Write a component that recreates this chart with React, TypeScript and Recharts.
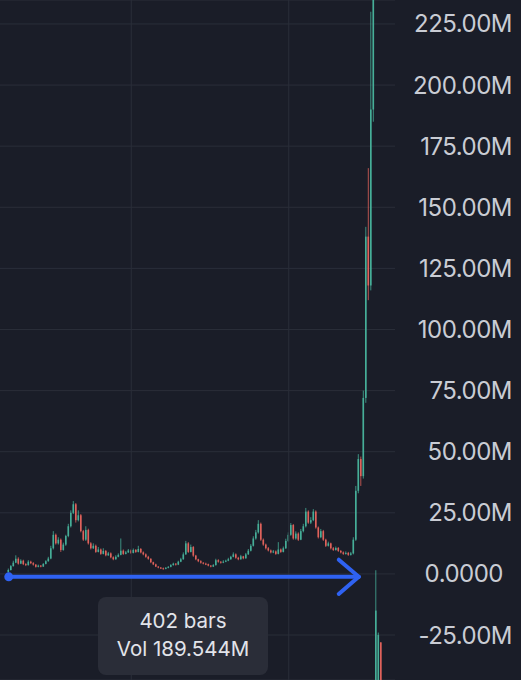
import React from "react";
import {
  ComposedChart,
  Bar,
  CartesianGrid,
  XAxis,
  YAxis,
  ReferenceLine,
  ReferenceDot,
} from "recharts";

// candles, values in millions; open/close/high/low per bar
const opens = [
  0.8, 1.6, 3.2, 4.6, 6.2, 4.2, 5.4, 4.0, 3.6, 5.0, 4.4, 3.8, 2.9, 3.4, 3.0, 4.1, 5.2, 6.3, 10.5, 16.0,
  12.5, 14.0, 9.8, 12.0, 15.5, 19.5, 25.0, 28.5, 22.0, 24.0, 17.5, 14.0, 18.0, 12.5, 10.5, 11.5, 9.0, 10.0, 8.2, 9.4,
  7.6, 8.4, 6.8, 6.0, 7.0, 7.8, 9.5, 8.2, 8.8, 9.6, 8.6, 9.8, 9.0, 10.2, 8.8, 8.0, 7.0, 6.2, 4.8, 3.9,
  3.0, 2.6, 2.3, 2.1, 2.5, 2.9, 3.6, 4.2, 3.8, 5.0, 6.0, 8.0, 12.5, 9.0, 11.0, 7.5, 6.0, 5.2, 4.6, 4.2,
  4.0, 3.4, 3.0, 3.6, 5.6, 5.0, 4.6, 5.0, 5.4, 6.0, 7.0, 8.0, 6.6, 6.0, 7.2, 6.4, 8.0, 9.5, 11.5, 14.5,
  17.0, 20.5, 14.0, 12.0, 10.5, 9.6, 8.8, 9.2, 8.2, 10.0, 9.0, 10.5, 13.5, 16.0, 20.0, 14.5, 16.5, 14.0, 17.5, 19.5,
  25.5, 21.0, 22.0, 25.5, 19.0, 15.0, 17.5, 14.0, 11.5, 12.5, 10.5, 9.8, 10.6, 9.4, 8.8, 8.2, 8.6, 7.8, 8.4, 14,
  34, 47, 40, 72, 138, 118, 190, -60, -70, -28,
];
const closes = [
  1.6, 3.2, 4.6, 6.2, 4.2, 5.4, 4.0, 3.6, 5.0, 4.4, 3.8, 2.9, 3.4, 3.0, 4.1, 5.2, 6.3, 10.5, 16.0, 12.5,
  14.0, 9.8, 12.0, 15.5, 19.5, 25.0, 28.5, 22.0, 24.0, 17.5, 14.0, 18.0, 12.5, 10.5, 11.5, 9.0, 10.0, 8.2, 9.4, 7.6,
  8.4, 6.8, 6.0, 7.0, 7.8, 9.5, 8.2, 8.8, 9.6, 8.6, 9.8, 9.0, 10.2, 8.8, 8.0, 7.0, 6.2, 4.8, 3.9, 3.0,
  2.6, 2.3, 2.1, 2.5, 2.9, 3.6, 4.2, 3.8, 5.0, 6.0, 8.0, 12.5, 9.0, 11.0, 7.5, 6.0, 5.2, 4.6, 4.2, 4.0,
  3.4, 3.0, 3.6, 5.6, 5.0, 4.6, 5.0, 5.4, 6.0, 7.0, 8.0, 6.6, 6.0, 7.2, 6.4, 8.0, 9.5, 11.5, 14.5, 17.0,
  20.5, 14.0, 12.0, 10.5, 9.6, 8.8, 9.2, 8.2, 10.0, 9.0, 10.5, 13.5, 16.0, 20.0, 14.5, 16.5, 14.0, 17.5, 19.5, 25.5,
  21.0, 22.0, 25.5, 19.0, 15.0, 17.5, 14.0, 11.5, 12.5, 10.5, 9.8, 10.6, 9.4, 8.8, 8.2, 8.6, 7.8, 8.4, 14, 34,
  47, 40, 72, 138, 118, 190, 290, -15, -25, -70,
];
const highs = [
  2.2, 3.6, 5.4, 7.6, 6.8, 6.0, 5.8, 4.4, 5.6, 5.4, 4.8, 4.0, 3.8, 3.6, 4.4, 5.6, 7.0, 11.5, 17.5, 16.5,
  15.0, 14.5, 12.8, 16.0, 20.5, 26.0, 29.8, 29.0, 26.0, 24.5, 18.0, 19.5, 18.5, 13.0, 12.5, 12.0, 11.0, 10.4, 10.5, 9.8,
  9.0, 8.8, 7.2, 7.6, 8.4, 14.5, 10.0, 9.4, 10.2, 10.0, 10.4, 10.2, 11.5, 10.6, 9.2, 8.4, 7.4, 6.4, 5.0, 4.2,
  3.2, 2.8, 2.6, 2.8, 3.2, 4.0, 4.6, 4.4, 5.4, 6.6, 8.8, 13.5, 13.0, 12.0, 11.4, 7.8, 6.2, 5.6, 4.8, 4.6,
  4.2, 3.6, 4.0, 6.2, 6.0, 5.2, 5.6, 5.8, 6.6, 7.4, 8.8, 8.4, 7.0, 7.8, 7.4, 8.6, 10.2, 12.2, 15.4, 18.0,
  22.0, 21.0, 14.5, 12.4, 11.0, 10.0, 9.8, 9.6, 13.0, 10.4, 11.2, 14.4, 17.0, 20.8, 20.4, 17.4, 17.0, 18.4, 20.5, 27.0,
  26.0, 23.2, 26.5, 26.0, 19.4, 18.4, 18.0, 14.4, 13.2, 12.8, 11.0, 11.2, 11.0, 9.8, 9.2, 9.2, 9.0, 9.0, 15, 36,
  49, 48, 75, 142, 166, 230, 300, 1.5, -24, -28,
];
const lows = [
  0.5, 1.4, 3.0, 4.4, 3.8, 4.0, 3.6, 3.2, 3.4, 4.0, 3.4, 2.6, 2.7, 2.7, 2.9, 3.9, 5.0, 6.0, 10.0, 12.0,
  12.0, 9.0, 9.5, 11.5, 15.0, 19.0, 24.5, 21.0, 21.5, 17.0, 13.5, 13.5, 12.0, 10.0, 10.2, 8.6, 8.8, 7.8, 8.0, 7.2,
  7.4, 6.4, 5.6, 5.8, 6.8, 7.6, 7.8, 8.0, 8.6, 8.2, 8.4, 8.6, 8.8, 8.4, 7.6, 6.6, 5.8, 4.4, 3.6, 2.8,
  2.3, 2.0, 1.8, 1.9, 2.3, 2.7, 3.4, 3.4, 3.6, 4.8, 5.8, 7.8, 8.6, 8.8, 7.0, 5.6, 4.8, 4.2, 3.9, 3.6,
  3.1, 2.7, 2.8, 3.4, 4.6, 4.2, 4.4, 4.8, 5.2, 5.8, 6.8, 6.2, 5.6, 5.8, 6.0, 6.2, 7.8, 9.2, 11.2, 14.0,
  16.5, 13.5, 11.5, 10.0, 9.2, 8.4, 8.5, 7.8, 8.0, 8.6, 8.8, 10.2, 13.0, 15.6, 14.0, 14.0, 13.5, 13.8, 17.0, 19.0,
  20.5, 20.4, 21.6, 18.5, 14.5, 14.6, 13.5, 11.0, 11.2, 10.0, 9.4, 9.5, 9.0, 8.4, 7.8, 7.9, 7.4, 7.5, 8, 13.5,
  33, 36, 39, 70, 112, 116, 185, -70, -75, -75,
];

const LEAD = 3; // empty slots before the first bar
const TRAIL = 5; // empty space on the right side
const yTicks = [-25, 0, 25, 50, 75, 100, 125, 150, 175, 200, 225];

const UP = "#46ae98";
const DOWN = "#e0625b";
const GRID = "#2a2e39";
const BG = "#1a1d28";
const BLUE = "#2f62f2";

const data: any[] = [];
for (let k = 0; k < LEAD + opens.length + TRAIL; k++) {
  const j = k - LEAD;
  if (j >= 0 && j < opens.length) {
    data.push({ i: k, o: opens[j], c: closes[j], h: highs[j], l: lows[j], range: [lows[j], highs[j]] });
  } else {
    data.push({ i: k });
  }
}

const Candle = (props: any) => {
  const { x, y, width, height, payload } = props;
  if (!payload || payload.h == null) return null;
  const top = Math.min(y, y + height);
  const bot = Math.max(y, y + height);
  const ppu = (bot - top) / (payload.h - payload.l);
  const bodyTop = top + (payload.h - Math.max(payload.o, payload.c)) * ppu;
  const bodyBot = top + (payload.h - Math.min(payload.o, payload.c)) * ppu;
  const color = payload.c >= payload.o ? UP : DOWN;
  const cx = x + width / 2;
  return (
    <g>
      <line x1={cx} x2={cx} y1={top} y2={bot} stroke={color} strokeWidth={0.8} />
      <rect x={x} y={bodyTop} width={width} height={Math.max(1, bodyBot - bodyTop)} fill={color} />
    </g>
  );
};

const fmt = (v: number) => (v === 0 ? "0.0000" : `${v.toFixed(2)}M`);

const PriceTick = (props: any) => {
  const { y, payload } = props;
  // zero label sits a little further left in the original
  const right = payload.value === 0 ? 503 : 512;
  return (
    <text
      x={right}
      y={y}
      dy={8.5}
      textAnchor="end"
      fill="#c9ccd4"
      fontSize={24}
      letterSpacing={-0.5}
      fontFamily="Inter, Roboto, sans-serif"
    >
      {fmt(payload.value)}
    </text>
  );
};

export default function App() {
  return (
    <div style={{ position: "fixed", left: 0, top: 0, width: 521, height: 680, background: BG, overflow: "hidden" }}>
      <ComposedChart width={521} height={680} data={data} margin={{ top: 0, right: 0, bottom: 0, left: 0 }} barCategoryGap={0}>
        <CartesianGrid stroke={GRID} vertical={false} />
        <XAxis dataKey="i" hide />
        <YAxis
          orientation="right"
          width={126}
          domain={[-43.4, 234.8]}
          allowDataOverflow
          ticks={yTicks}
          axisLine={false}
          tickLine={false}
          tick={<PriceTick />}
          interval={0}
        />
        <ReferenceLine x={52} stroke={GRID} />
        <ReferenceLine x={115} stroke={GRID} />
        <Bar dataKey="range" barSize={1.6} shape={<Candle />} isAnimationActive={false} />
        <ReferenceLine segment={[{ x: 3, y: -1.2 }, { x: 143, y: -1.2 }]} stroke={BLUE} strokeWidth={4} strokeLinecap="round" />
        <ReferenceLine segment={[{ x: 135, y: 5.8 }, { x: 143, y: -1.2 }]} stroke={BLUE} strokeWidth={4} strokeLinecap="round" />
        <ReferenceLine segment={[{ x: 135, y: -8.2 }, { x: 143, y: -1.2 }]} stroke={BLUE} strokeWidth={4} strokeLinecap="round" />
        <ReferenceDot x={3} y={-1.2} r={4.5} fill={BLUE} stroke="none" />
      </ComposedChart>
      <div
        style={{
          position: "absolute",
          left: 98,
          top: 597,
          width: 170,
          height: 78,
          borderRadius: 8,
          background: "#2a2d38",
          color: "#e2e4ea",
          fontFamily: "Inter, Roboto, sans-serif",
          fontSize: 20.5,
          display: "flex",
          flexDirection: "column",
          alignItems: "center",
          justifyContent: "center",
          gap: 4,
          lineHeight: "24px",
          paddingBottom: 3,
          boxSizing: "border-box",
        }}
      >
        <div>402 bars</div>
        <div>Vol 189.544M</div>
      </div>
    </div>
  );
}
